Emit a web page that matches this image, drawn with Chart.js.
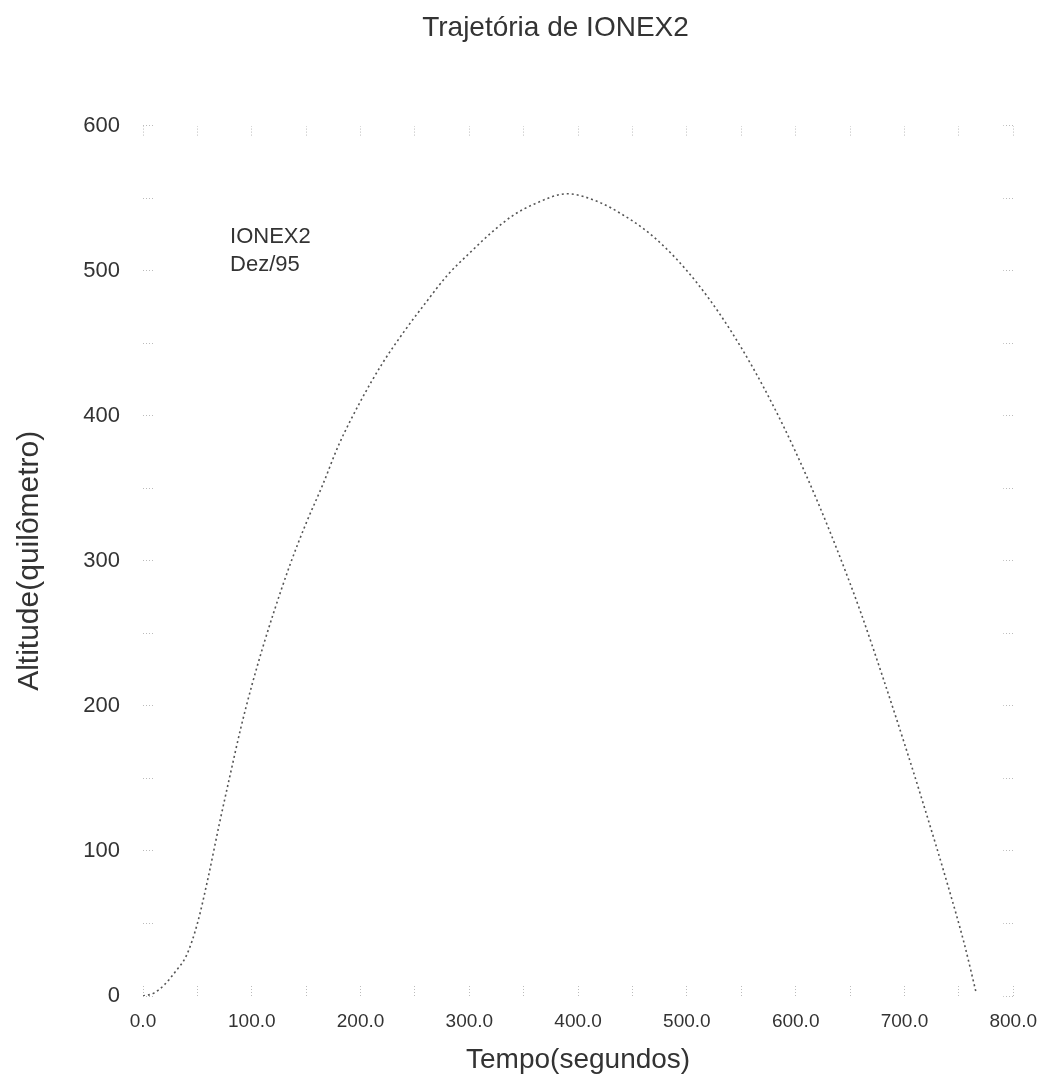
<!DOCTYPE html>
<html>
<head>
<meta charset="utf-8">
<title>Trajetória de IONEX2</title>
<script src="https://cdn.jsdelivr.net/npm/chart.js@4.4.1/dist/chart.umd.min.js"></script>
<style>
  html, body { margin: 0; padding: 0; background: #fff; }
  #wrap { width: 1061px; height: 1079px; }
</style>
</head>
<body>
<div id="wrap"><canvas id="trajChart"></canvas></div>
<script>
// Flight time (s) and altitude (km)
const tempo = [0, 10, 20, 30, 40, 50, 60, 70, 80, 90, 100, 110, 120, 135, 150, 165, 180, 200, 220, 240, 260, 280,
               300, 320, 340, 360, 390, 420, 440, 460, 480, 500, 520, 540, 560, 580, 600, 620, 640, 660, 680,
               700, 720, 740, 755, 766];
const altitude = [0, 2, 8, 17, 28, 50, 82, 118, 152, 185, 214, 240, 264, 297, 326, 352, 380, 410, 436, 458, 478, 497,
                  512, 526, 538, 546, 553, 547, 539, 529, 516, 500, 481, 459, 434, 406, 375, 341, 304, 264, 220,
                  174, 126, 76, 36, 2];

const xTickLabels = ['0.0', '100.0', '200.0', '300.0', '400.0', '500.0', '600.0', '700.0', '800.0'];
const yTickLabels = ['0', '100', '200', '300', '400', '500', '600'];

// small note inside the plot (time, altitude of its first line)
const noteLines = ['IONEX2', 'Dez/95'];
const noteAt = [80, 523];

const FONT = '"Liberation Sans", Arial, sans-serif';
const INK = '#333';

const notePlugin = {
  id: 'note',
  afterDatasetsDraw(chart) {
    const { ctx, scales } = chart;
    const x = scales.x.getPixelForValue(noteAt[0]);
    const y = scales.y.getPixelForValue(noteAt[1]);
    ctx.save();
    ctx.font = '22px ' + FONT;
    ctx.fillStyle = INK;
    ctx.textBaseline = 'middle';
    noteLines.forEach((line, i) => ctx.fillText(line, x, y + i * 28));
    ctx.restore();
  }
};

// faint inward tick marks, every 50 units
const tickGrid = { drawOnChartArea: false, tickLength: -10, tickColor: '#bbb', tickBorderDash: [1, 2] };

const ctx = document.getElementById('trajChart').getContext('2d');
new Chart(ctx, {
  type: 'line',
  data: {
    datasets: [{
      label: 'IONEX2',
      data: tempo.map((t, i) => ({ x: t, y: altitude[i] })),
      borderColor: '#555',
      borderWidth: 1.6,
      borderDash: [2, 3],
      pointRadius: 0,
      cubicInterpolationMode: 'monotone',
      fill: false
    }]
  },
  options: {
    responsive: true,
    maintainAspectRatio: false,
    animation: false,
    // left padding pushes the page title a little right, as in the scan
    layout: { padding: { left: 50, right: 0, top: 0, bottom: 0 } },
    plugins: {
      legend: { display: false },
      tooltip: { enabled: false },
      title: {
        display: true,
        text: 'Trajetória de IONEX2',
        color: INK,
        font: { family: FONT, size: 28, weight: 'normal' },
        padding: { top: 11, bottom: 71 }
      }
    },
    scales: {
      x: {
        type: 'linear', position: 'bottom', min: 0, max: 800,
        border: { display: false },
        grid: tickGrid,
        ticks: {
          stepSize: 50, autoSkip: false, maxRotation: 0, padding: 24,
          color: INK, font: { family: FONT, size: 19 },
          callback: v => (v % 100 === 0 ? xTickLabels[v / 100] : '')
        },
        title: {
          display: true, text: 'Tempo(segundos)', color: INK,
          font: { family: FONT, size: 28 }, padding: { top: 0, bottom: 2 }
        },
        afterFit: s => { s.height = 83; }
      },
      x2: {
        type: 'linear', position: 'top', min: 0, max: 800,
        border: { display: false },
        grid: tickGrid,
        ticks: { display: false, stepSize: 50, autoSkip: false },
        afterFit: s => { s.height = 10; }
      },
      y: {
        type: 'linear', position: 'left', min: 0, max: 600,
        border: { display: false },
        grid: tickGrid,
        ticks: {
          stepSize: 50, autoSkip: false, padding: 33,
          color: INK, font: { family: FONT, size: 22 },
          callback: v => (v % 100 === 0 ? yTickLabels[v / 100] : '')
        },
        title: {
          display: true, text: 'Altitude(quilômetro)', color: INK,
          font: { family: FONT, size: 30 }, padding: { top: -38, bottom: 0 }
        },
        afterFit: s => { s.width = 93; }
      },
      y2: {
        type: 'linear', position: 'right', min: 0, max: 600,
        border: { display: false },
        grid: tickGrid,
        ticks: { display: false, stepSize: 50, autoSkip: false },
        afterFit: s => { s.width = 39; }
      }
    }
  },
  plugins: [notePlugin]
});
</script>
</body>
</html>
